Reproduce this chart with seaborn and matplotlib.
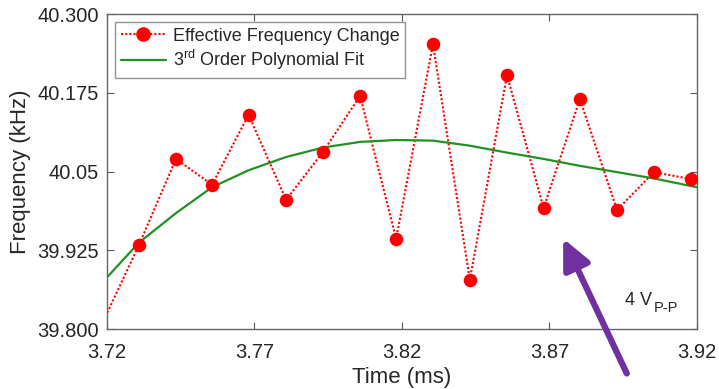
import matplotlib
matplotlib.use("Agg")
import matplotlib.pyplot as plt
from matplotlib.lines import Line2D
import seaborn as sns
import pandas as pd

# ---- data ----
time_ms = [3.7183, 3.7308, 3.7434, 3.7556, 3.7680, 3.7807, 3.7932, 3.8058, 3.8180,
           3.8305, 3.8430, 3.8556, 3.8680, 3.8803, 3.8929, 3.9054, 3.9180]
freq_khz = [39.808, 39.933, 40.070, 40.029, 40.140, 40.005, 40.081, 40.170, 39.943,
            40.252, 39.878, 40.203, 39.992, 40.165, 39.989, 40.049, 40.038]

fit_time = [3.7200, 3.7308, 3.7434, 3.7556, 3.7680, 3.7807, 3.7932, 3.8058, 3.8180,
            3.8305, 3.8430, 3.8556, 3.8680, 3.8803, 3.8929, 3.9054, 3.9200]
fit_freq = [39.882, 39.937, 39.984, 40.025, 40.052, 40.073, 40.088, 40.097, 40.100,
            40.099, 40.091, 40.080, 40.070, 40.059, 40.049, 40.039, 40.025]

x_ticks = [3.72, 3.77, 3.82, 3.87, 3.92]
x_tick_labels = ["3.72", "3.77", "3.82", "3.87", "3.92"]
y_ticks = [39.8, 39.925, 40.05, 40.175, 40.3]
y_tick_labels = ["39.800", "39.925", "40.05", "40.175", "40.300"]

sns.set_theme(style="white")
plt.rcParams["font.family"] = ["Liberation Sans", "DejaVu Sans"]
plt.rcParams["mathtext.fontset"] = "custom"
plt.rcParams["mathtext.rm"] = "Liberation Sans"
plt.rcParams["mathtext.it"] = "Liberation Sans"

fig = plt.figure(figsize=(7.19, 3.89), dpi=100)
ax = fig.add_axes([0.1488, 0.1542, 0.8206, 0.8098])

df = pd.DataFrame({"t": time_ms, "f": freq_khz})
dfit = pd.DataFrame({"t": fit_time, "f": fit_freq})
x_min, x_max = x_ticks[0], x_ticks[-1]
vis = df[(df["t"] >= x_min) & (df["t"] <= x_max)]

red = "#FF0000"
green = "#239023"
txt = "#262626"

sns.lineplot(data=df, x="t", y="f", ax=ax, color=red, linestyle=(0, (1, 1)),
             linewidth=1.5, sort=False, estimator=None)
sns.scatterplot(data=vis, x="t", y="f", ax=ax, color=red, s=95, edgecolor=red,
                linewidth=0, zorder=4)
sns.lineplot(data=dfit, x="t", y="f", ax=ax, color=green, linewidth=1.6,
             sort=False, estimator=None, zorder=3)

ax.set_xlim(x_min, x_max)
ax.set_ylim(y_ticks[0], y_ticks[-1])
ax.set_xticks(x_ticks)
ax.set_xticklabels(x_tick_labels)
ax.set_yticks(y_ticks)
ax.set_yticklabels(y_tick_labels)
ax.tick_params(direction="in", length=5, width=0.8, color="#555555",
               bottom=True, left=True, top=True, right=True,
               labelsize=14.5, labelcolor=txt)
ax.tick_params(axis="x", pad=10)
ax.tick_params(axis="y", pad=6)
for s in ax.spines.values():
    s.set_color("#666666")
    s.set_linewidth(1.0)

ax.set_xlabel("Time (ms)", fontsize=16, color=txt, labelpad=4)
ax.set_ylabel("Frequency (kHz)", fontsize=16, color=txt, labelpad=4)

handles = [
    Line2D([], [], color=red, linestyle=(0, (1, 1)), linewidth=1.5, marker="o",
           markersize=9.5, markerfacecolor=red, markeredgecolor=red),
    Line2D([], [], color=green, linewidth=1.6),
]
labels = ["Effective Frequency Change", "3$^{\\rm rd}$ Order Polynomial Fit"]
leg = ax.legend(handles, labels, loc="upper left", bbox_to_anchor=(0.0, 1.0),
                fontsize=13, frameon=True, fancybox=False, borderpad=0.3,
                handlelength=2.5, handletextpad=0.4, labelspacing=0.2,
                borderaxespad=0.45)
leg.get_frame().set_edgecolor("#777777")
leg.get_frame().set_linewidth(1.0)
for t in leg.get_texts():
    t.set_color(txt)

ax.annotate("4 V", xy=(3.8955, 39.846), xycoords="data", fontsize=13,
            color=txt, va="center", ha="left")
ax.annotate("P-P", xy=(3.8955, 39.846), xycoords="data", xytext=(21, -6),
            textcoords="offset points", fontsize=10.5, color=txt,
            va="center", ha="left")

fig.patches.append(matplotlib.patches.FancyArrowPatch(
    (628, 389 - 376), (562, 389 - 236), transform=None,
    arrowstyle="-|>,head_length=18,head_width=8.5", mutation_scale=1,
    color="#7030A0", linewidth=4.5))

fig.savefig("out.png", dpi=100)
